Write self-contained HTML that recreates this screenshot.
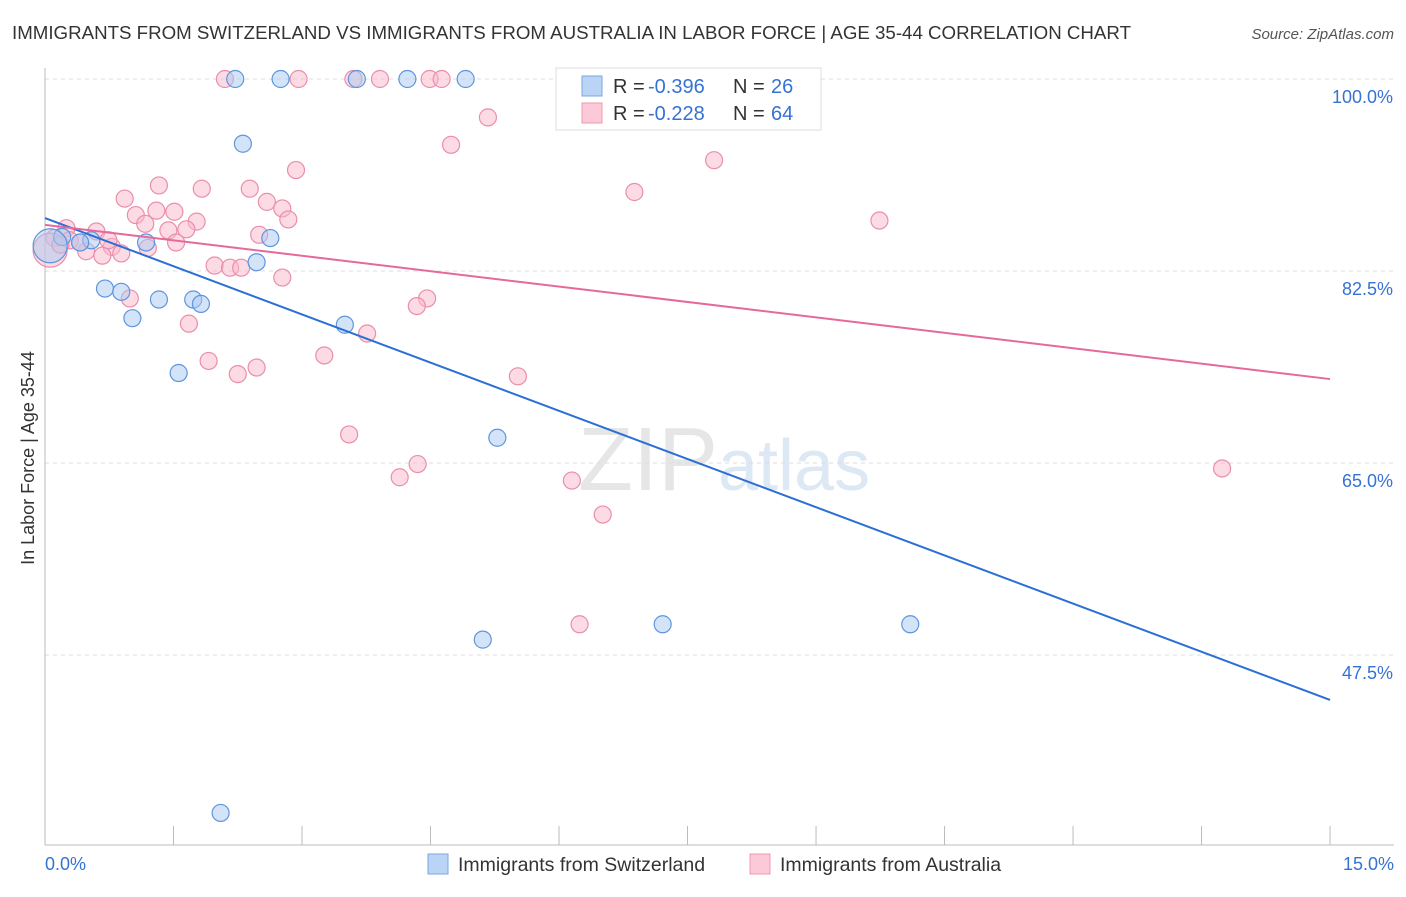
<!DOCTYPE html>
<html><head><meta charset="utf-8"><style>
body{margin:0;background:#fff;font-family:"Liberation Sans",sans-serif}
svg text{font-family:"Liberation Sans",sans-serif}
</style></head><body>
<svg id="c" width="1406" height="892">
<text x="12" y="39" font-size="18" fill="#333" textLength="1119" lengthAdjust="spacingAndGlyphs">IMMIGRANTS FROM SWITZERLAND VS IMMIGRANTS FROM AUSTRALIA IN LABOR FORCE | AGE 35-44 CORRELATION CHART</text>
<text x="1394" y="39" font-size="15" fill="#555" font-style="italic" text-anchor="end">Source: ZipAtlas.com</text>
<text x="718" y="490" font-size="90" fill="#e6e6e6" text-anchor="end" font-family="Liberation Serif">ZIP</text>
<text x="718" y="490" font-size="72" fill="#dde8f5">atlas</text>
<g id="grid"></g><g id="axes"></g><g id="pts"></g><g id="lines"></g>
<text transform="translate(34,458) rotate(-90)" font-size="18" fill="#333" text-anchor="middle">In Labor Force | Age 35-44</text>
<g>
<rect x="556" y="68" width="265" height="62" fill="#fff" stroke="#ddd"/>
<rect x="582" y="76" width="20" height="20" fill="#b9d4f5" stroke="#7aa6e0"/>
<rect x="582" y="103" width="20" height="20" fill="#fbc9d7" stroke="#ee99b1"/>
<text y="93" font-size="20" fill="#333"><tspan x="613">R =</tspan><tspan x="648" fill="#3672d4">-0.396</tspan><tspan x="733">N =</tspan><tspan x="771" fill="#3672d4">26</tspan></text>
<text y="120" font-size="20" fill="#333"><tspan x="613">R =</tspan><tspan x="648" fill="#3672d4">-0.228</tspan><tspan x="733">N =</tspan><tspan x="771" fill="#3672d4">64</tspan></text>
</g>
<g>
<rect x="428" y="854" width="20" height="20" fill="#b9d4f5" stroke="#7aa6e0"/>
<text x="458" y="871" font-size="19.5" fill="#333">Immigrants from Switzerland</text>
<rect x="750" y="854" width="20" height="20" fill="#fbc9d7" stroke="#ee99b1"/>
<text x="780" y="871" font-size="19.5" fill="#333">Immigrants from Australia</text>
</g>
</svg>
<script>
const yTicks=[100,82.5,65,47.5];
const yTickLabels=["100.0%","82.5%","65.0%","47.5%"];
const xTickLabels=["0.0%","15.0%"];
const blueX=[2.22,2.75,3.64,4.23,4.91,2.31,0.20,0.54,1.18,2.63,2.47,0.06,0.70,0.89,1.33,1.73,1.82,1.02,3.50,1.56,5.28,5.11,7.21,10.10,2.05,0.41];
const blueY=[100,100,100,100,100,94.1,85.6,85.3,85.1,85.5,83.3,84.8,80.9,80.6,79.9,79.9,79.5,78.2,77.6,73.2,67.3,48.9,50.3,50.3,33.1,85.1];
const pinkX=[2.10,2.96,3.60,3.91,4.49,4.63,5.17,4.74,7.81,2.93,6.88,9.74,0.93,1.33,1.83,2.39,2.59,2.77,1.06,1.30,1.51,1.77,2.84,1.17,1.44,1.65,0.25,0.60,0.11,0.29,0.78,0.89,0.67,0.48,1.53,1.20,2.50,1.98,2.16,2.29,2.77,0.99,4.46,4.34,1.68,3.76,3.26,1.91,2.25,2.47,5.52,3.55,4.35,4.14,6.15,6.51,6.24,13.74,0.06,0.18,0.41,0.74];
const pinkY=[100,100,100,100,100,100,96.5,94.0,92.6,91.7,89.7,87.1,89.1,90.3,90.0,90.0,88.8,88.2,87.6,88.0,87.9,87.0,87.2,86.8,86.2,86.3,86.4,86.1,85.5,85.3,84.7,84.1,83.9,84.3,85.1,84.6,85.8,83.0,82.8,82.8,81.9,80.0,80.0,79.3,77.7,76.8,74.8,74.3,73.1,73.7,72.9,67.6,64.9,63.7,63.4,60.3,50.3,64.5,84.4,84.9,85.1,85.3];
const blueLine=[87.33,43.4];
const pinkLine=[86.7,72.65];
const X=v=>45+v*85.67, Y=v=>79+(100-v)*10.971;
const NS="http://www.w3.org/2000/svg";
function mk(p,t,a){const e=document.createElementNS(NS,t);for(const k in a)e.setAttribute(k,a[k]);document.getElementById(p).appendChild(e);return e;}
yTicks.forEach((v,i)=>{
 const g=mk('grid','line',{x1:45,x2:1394,y1:Y(v),y2:Y(v),stroke:'#ddd','stroke-dasharray':'4,4'});
 
 
 const t=mk('grid','text',{x:1393,y:Y(v)+24,'font-size':18,fill:'#3672d4','text-anchor':'end'});t.textContent=yTickLabels[i];
 
 
});
const ax=mk('axes','line',{x1:45,x2:45,y1:68,y2:845,stroke:'#bbb'});


const bx=mk('axes','line',{x1:45,x2:1394,y1:845,y2:845,stroke:'#bbb'});


for(let i=0;i<=10;i++){const l=mk('axes','line',{x1:X(i*1.5),x2:X(i*1.5),y1:826,y2:845,stroke:'#bbb'});
 
 }
[[0,45,'start'],[15,1394,'end']].forEach((d,i)=>{const t=mk('axes','text',{x:d[1],y:870,'font-size':18,fill:'#3672d4','text-anchor':d[2]});t.textContent=xTickLabels[i];
 
 });
function pts(xs,ys,fill,stroke,name){xs.forEach((x,i)=>{const big=(x<0.1&&Math.abs(ys[i]-84.6)<0.3);
 const c=mk('pts','circle',{cx:X(x),cy:Y(ys[i]),r:big?17:8.5,fill:fill,'fill-opacity':0.5,stroke:stroke,'stroke-width':1.2});
 
 });}
pts(pinkX,pinkY,'#f9b8cb','#ea8eab','australia-point');
pts(blueX,blueY,'#a9c9f2','#5e95de','switzerland-point');
const bl=mk('lines','line',{x1:X(0),y1:Y(blueLine[0]),x2:X(15),y2:Y(blueLine[1]),stroke:'#2a6fd6','stroke-width':2});


const pl=mk('lines','line',{x1:X(0),y1:Y(pinkLine[0]),x2:X(15),y2:Y(pinkLine[1]),stroke:'#e5699a','stroke-width':2});


</script>
</body></html>
